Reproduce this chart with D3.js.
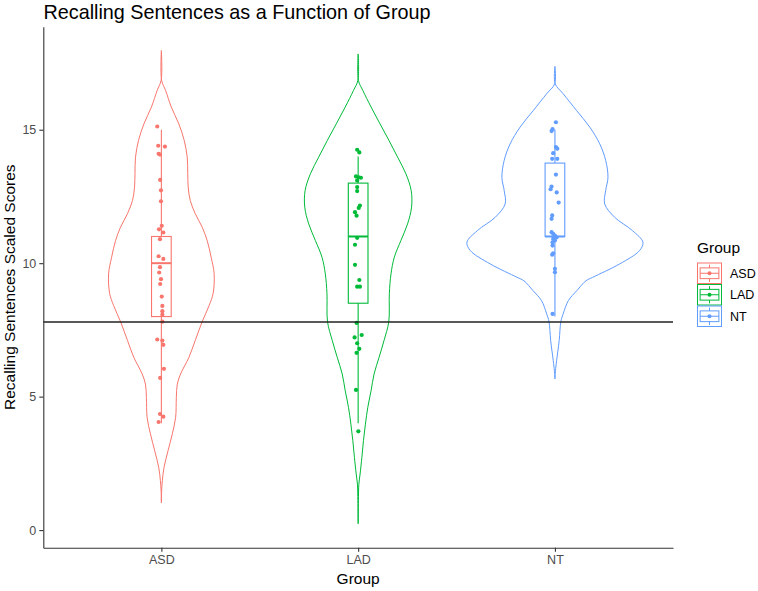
<!DOCTYPE html>
<html>
<head>
<meta charset="utf-8">
<script src="https://cdn.jsdelivr.net/npm/d3@7"></script>
<style>
  body { margin: 0; background: #fff; }
  text { font-family: "Liberation Sans", Arial, sans-serif; }
</style>
</head>
<body>
<div id="chart"></div>
<script>
// groups and colours (ggplot default hues)
var groups = ["ASD", "LAD", "NT"];
var groupColors = ["#F8766D", "#00BA38", "#619CFF"];
var yTicks = [0, 5, 10, 15];
var cutoff = 7.8;

// box plot stats
var boxLower = [4, 4, 8];
var boxQ1 = [8, 8.5, 11];
var boxMedian = [10, 11, 11];
var boxQ3 = [11, 13, 13.75];
var boxUpper = [15, 14, 15];

// jittered points: score and horizontal jitter (category units)
var asdScores = [15.12, 14.40, 14.37, 14.10, 14.07, 13.12, 12.73, 12.32, 11.40, 11.27, 11.15, 10.90, 10.26, 10.16, 9.85, 9.65, 9.40, 9.22, 8.75, 8.40, 8.20, 8.07, 7.81, 7.14, 7.10, 6.94, 6.04, 5.70, 4.35, 4.25, 4.05];
var asdJitter = [-0.021, -0.016, 0.018, -0.014, -0.007, -0.006, -0.002, -0.002, 0.002, -0.012, 0.010, -0.007, -0.014, 0.010, -0.007, -0.011, -0.002, -0.006, 0.002, 0.005, 0.005, 0.005, 0.005, -0.021, 0.005, 0.010, 0.013, -0.006, -0.007, 0.010, -0.014];
var ladScores = [14.25, 14.15, 13.25, 13.22, 13.20, 13.10, 12.85, 12.70, 12.16, 12.07, 11.91, 11.78, 10.95, 10.69, 9.94, 9.37, 9.12, 9.12, 7.76, 7.22, 7.31, 7.00, 6.79, 6.64, 5.25, 3.70];
var ladJitter = [-0.005, 0.006, -0.011, 0.003, 0.014, -0.005, -0.005, -0.005, 0.009, 0.003, -0.016, -0.008, -0.005, -0.016, -0.016, 0.006, -0.005, 0.009, -0.008, -0.018, 0.018, -0.005, 0.006, -0.008, -0.011, 0.001];
var ntScores = [15.28, 15.02, 14.95, 14.35, 14.29, 14.12, 13.91, 13.91, 13.32, 12.87, 12.77, 12.65, 12.27, 11.79, 11.66, 11.16, 11.10, 11.03, 10.97, 10.91, 10.85, 10.78, 10.66, 10.37, 10.32, 9.79, 9.66, 8.10];
var ntJitter = [0.005, -0.012, -0.017, 0.005, 0.012, -0.009, -0.014, 0.012, 0.005, -0.017, -0.022, 0.009, 0.019, -0.014, -0.017, -0.017, -0.009, 0, 0.009, -0.009, 0, -0.012, -0.012, -0.009, -0.014, 0, 0, -0.012];

// violin outlines: score and relative density
var asdViolinScore = [17.97, 16.85, 16.47, 15.85, 15.22, 14.60, 13.97, 13.35, 12.85, 12.35, 11.86, 11.35, 10.85, 10.22, 9.60, 8.86, 8.41, 7.81, 7.10, 6.47, 5.85, 5.47, 4.97, 4.22, 3.61, 2.97, 2.35, 1.85, 1.47, 1.02];
var asdViolinDensity = [0, 0.003, 0.048, 0.112, 0.197, 0.258, 0.292, 0.298, 0.303, 0.326, 0.382, 0.461, 0.517, 0.562, 0.596, 0.584, 0.539, 0.461, 0.382, 0.311, 0.217, 0.180, 0.169, 0.161, 0.124, 0.075, 0.030, 0.011, 0.003, 0];
var ladViolinScore = [17.84, 16.85, 16.47, 15.85, 15.22, 14.60, 13.97, 13.35, 12.72, 12.10, 11.47, 10.85, 10.22, 9.60, 8.85, 7.81, 7.10, 6.47, 5.85, 5.22, 4.60, 3.97, 3.35, 2.72, 2.10, 1.72, 1.10, 0.24];
var ladViolinDensity = [0, 0.003, 0.053, 0.146, 0.247, 0.348, 0.446, 0.539, 0.599, 0.603, 0.558, 0.483, 0.408, 0.371, 0.352, 0.346, 0.292, 0.236, 0.180, 0.146, 0.109, 0.082, 0.060, 0.042, 0.022, 0.008, 0.003, 0];
var ntViolinScore = [17.37, 16.72, 16.35, 15.72, 15.10, 14.47, 13.85, 13.22, 12.72, 12.22, 11.72, 11.22, 10.78, 10.47, 9.97, 9.47, 9.34, 8.97, 8.60, 8.10, 7.81, 7.10, 6.35, 5.97, 5.66];
var ntViolinDensity = [0, 0.003, 0.093, 0.244, 0.393, 0.506, 0.573, 0.599, 0.573, 0.562, 0.674, 0.876, 0.994, 0.955, 0.730, 0.427, 0.350, 0.247, 0.152, 0.093, 0.067, 0.048, 0.019, 0.006, 0];

var pointScores = [asdScores, ladScores, ntScores];
var pointJitter = [asdJitter, ladJitter, ntJitter];
var violinScores = [asdViolinScore, ladViolinScore, ntViolinScore];
var violinDensity = [asdViolinDensity, ladViolinDensity, ntViolinDensity];

var svgWidth = 758, svgHeight = 591;
var margin = { top: 26.7, right: 85, bottom: 43.3, left: 43.3 };
var width = svgWidth - margin.left - margin.right;
var height = svgHeight - margin.top - margin.bottom;

var svg = d3.select("#chart")
  .append("svg")
  .attr("width", svgWidth)
  .attr("height", svgHeight);

var g = svg.append("g")
  .attr("transform", "translate(" + margin.left + "," + margin.top + ")");

var x = d3.scalePoint().domain(groups).range([0, width]).padding(0.6);
var step = x.step();
var y = d3.scaleLinear().domain([-0.66, 18.86]).range([height, 0]);
// widest violin gets 0.9 of a category
var w = d3.scaleLinear().domain([0, 1]).range([0, 0.45 * step]);

var boxHalf = 0.05 * step;

groups.forEach(function(grp, i) {
  var cx = x(grp);
  var col = groupColors[i];

  // violin
  var vdata = violinScores[i].map(function(s, j) { return [s, violinDensity[i][j]]; });
  var area = d3.area()
    .curve(d3.curveCatmullRom)
    .y(function(d) { return y(d[0]); })
    .x0(function(d) { return cx - w(d[1]); })
    .x1(function(d) { return cx + w(d[1]); });
  g.append("path")
    .datum(vdata)
    .attr("d", area)
    .attr("fill", "none")
    .attr("stroke", col)
    .attr("stroke-width", 1);

  // whiskers
  g.append("line")
    .attr("x1", cx).attr("x2", cx)
    .attr("y1", y(boxUpper[i])).attr("y2", y(boxQ3[i]))
    .attr("stroke", col).attr("stroke-width", 1.1);
  g.append("line")
    .attr("x1", cx).attr("x2", cx)
    .attr("y1", y(boxQ1[i])).attr("y2", y(boxLower[i]))
    .attr("stroke", col).attr("stroke-width", 1.1);
  // box
  g.append("rect")
    .attr("x", cx - boxHalf)
    .attr("y", y(boxQ3[i]))
    .attr("width", boxHalf * 2)
    .attr("height", y(boxQ1[i]) - y(boxQ3[i]))
    .attr("fill", "none")
    .attr("stroke", col).attr("stroke-width", 1.1);
  g.append("line")
    .attr("x1", cx - boxHalf).attr("x2", cx + boxHalf)
    .attr("y1", y(boxMedian[i])).attr("y2", y(boxMedian[i]))
    .attr("stroke", col).attr("stroke-width", 2);

  // points
  g.selectAll(".pt" + i)
    .data(pointScores[i])
    .enter().append("circle")
    .attr("class", "pt" + i)
    .attr("cx", function(d, j) { return cx + pointJitter[i][j] * step; })
    .attr("cy", function(d) { return y(d); })
    .attr("r", 2.1)
    .attr("fill", col);
});

// reference line
g.append("line")
  .attr("x1", 0).attr("x2", width)
  .attr("y1", y(cutoff)).attr("y2", y(cutoff))
  .attr("stroke", "#222").attr("stroke-width", 1.5);

// axes
var xAxis = g.append("g")
  .attr("transform", "translate(0," + height + ")")
  .call(d3.axisBottom(x).tickSize(4).tickSizeOuter(0).tickPadding(3));
var yAxis = g.append("g")
  .call(d3.axisLeft(y).tickValues(yTicks).tickSize(4).tickSizeOuter(0).tickPadding(3));

[xAxis, yAxis].forEach(function(ax) {
  ax.select(".domain").attr("stroke", "#333").attr("stroke-width", 1.1);
  ax.selectAll(".tick line").attr("stroke", "#333").attr("stroke-width", 1.1);
  ax.selectAll(".tick text")
    .attr("fill", "#4d4d4d")
    .style("font-size", "12.5px")
    .style("font-family", "'Liberation Sans', Arial, sans-serif");
});

// titles
svg.append("text")
  .attr("x", 43.5)
  .attr("y", 18.5)
  .style("font-size", "19.8px")
  .attr("fill", "#000")
  .text("Recalling Sentences as a Function of Group");

svg.append("text")
  .attr("x", margin.left + width / 2)
  .attr("y", 584)
  .attr("text-anchor", "middle")
  .style("font-size", "15.5px")
  .text("Group");

svg.append("text")
  .attr("transform", "translate(15," + (margin.top + height / 2) + ") rotate(-90)")
  .attr("text-anchor", "middle")
  .style("font-size", "15.5px")
  .text("Recalling Sentences Scaled Scores");

// legend
var legend = svg.append("g").attr("transform", "translate(697,234)");
legend.append("text")
  .attr("x", 0).attr("y", 19)
  .style("font-size", "15.5px")
  .text("Group");

var keyW = 25, keyH = 21.5;
groups.forEach(function(grp, i) {
  var k = legend.append("g").attr("transform", "translate(0," + (28.5 + i * keyH) + ")");
  var col = groupColors[i];
  k.append("rect")
    .attr("x", 0.5).attr("y", 0.5)
    .attr("width", keyW - 1).attr("height", keyH - 1)
    .attr("fill", "#fff").attr("stroke", col).attr("stroke-width", 1);
  k.append("line")
    .attr("x1", keyW / 2).attr("x2", keyW / 2)
    .attr("y1", keyH * 0.1).attr("y2", keyH * 0.9)
    .attr("stroke", col);
  k.append("rect")
    .attr("x", keyW * 0.125).attr("y", keyH * 0.25)
    .attr("width", keyW * 0.75).attr("height", keyH * 0.5)
    .attr("fill", "#fff").attr("stroke", col);
  k.append("line")
    .attr("x1", keyW * 0.125).attr("x2", keyW * 0.875)
    .attr("y1", keyH / 2).attr("y2", keyH / 2)
    .attr("stroke", col);
  k.append("circle")
    .attr("cx", keyW / 2).attr("cy", keyH / 2)
    .attr("r", 2).attr("fill", col);
  k.append("text")
    .attr("x", keyW + 8).attr("y", keyH / 2 + 4.5)
    .style("font-size", "12.5px")
    .attr("fill", "#000")
    .text(grp);
});
</script>
</body>
</html>
